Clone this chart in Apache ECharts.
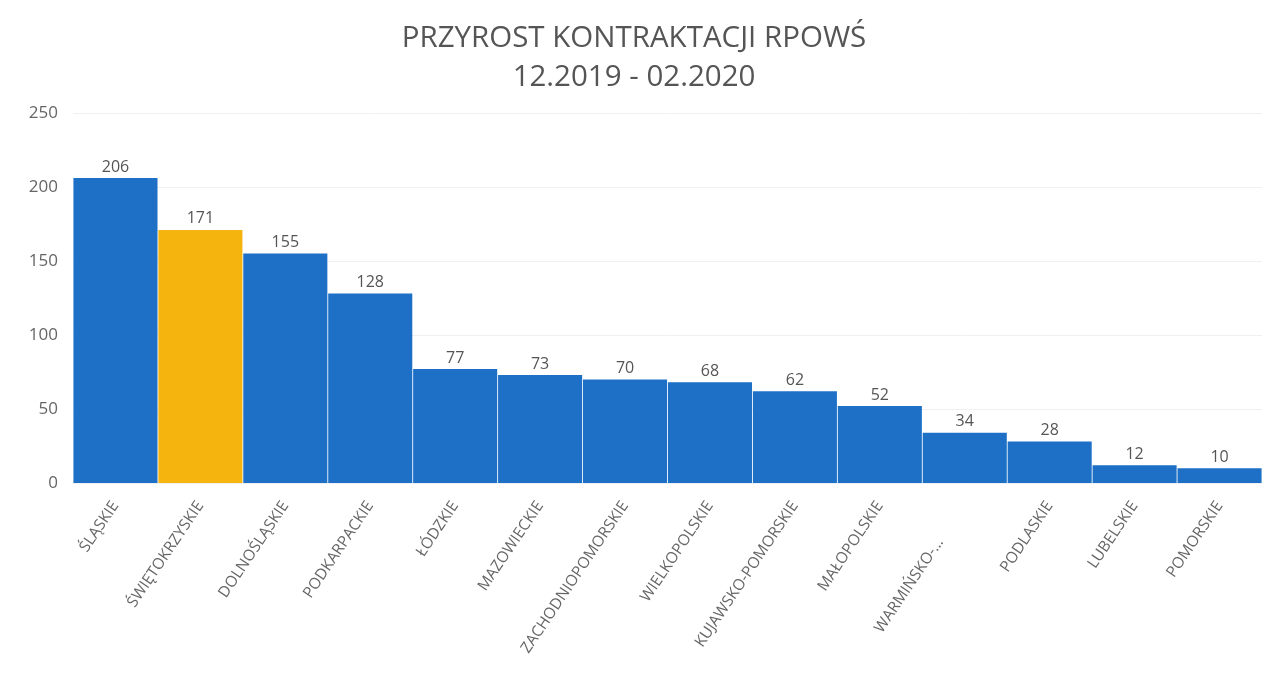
<!DOCTYPE html>
<html>
<head>
<meta charset="utf-8">
<script src="https://cdn.jsdelivr.net/npm/echarts@6/dist/echarts.min.js"></script>
<style>html,body{margin:0;padding:0;background:#fff}#c{width:1268px;height:686px}</style>
</head>
<body>
<div id="c"></div>
<script>
const categories = ['ŚLĄSKIE','ŚWIĘTOKRZYSKIE','DOLNOŚLĄSKIE','PODKARPACKIE','ŁÓDZKIE','MAZOWIECKIE','ZACHODNIOPOMORSKIE','WIELKOPOLSKIE','KUJAWSKO-POMORSKIE','MAŁOPOLSKIE','WARMIŃSKO-…','PODLASKIE','LUBELSKIE','POMORSKIE'];
const values = [206,171,155,128,77,73,70,68,62,52,34,28,12,10];
const highlight = 'ŚWIĘTOKRZYSKIE';
const yTicks = [0,50,100,150,200,250];

const chart = echarts.init(document.getElementById('c'));
chart.setOption({
  animation: false,
  title: {
    text: 'PRZYROST KONTRAKTACJI RPOWŚ\n12.2019 - 02.2020',
    left: 'center', top: 14,
    textStyle: {fontFamily: 'Open Sans', fontSize: 29.5, fontWeight: 'normal', color: '#555', lineHeight: 39}
  },
  grid: {left: 73, right: 6, top: 113, bottom: 203},
  xAxis: {
    type: 'category',
    data: categories.map(c => c === 'WARMIŃSKO-…' ? {value: c, textStyle: {padding: [0, 44, 0, 0]}} : c),
    axisTick: {show: false},
    axisLine: {show: false},
    axisLabel: {rotate: 56, interval: 0, fontFamily: 'Open Sans', fontSize: 15.5, color: '#666', margin: 20}
  },
  yAxis: {
    type: 'value', min: yTicks[0], max: yTicks[yTicks.length-1], interval: 50,
    axisLine: {show: false}, axisTick: {show: false},
    axisLabel: {fontFamily: 'Open Sans', fontSize: 17, color: '#666', margin: 15},
    splitLine: {lineStyle: {color: '#f0f0f0'}}
  },
  series: [{
    type: 'bar',
    barCategoryGap: '1%',
    data: values.map((v, i) => ({value: v, itemStyle: {color: categories[i] === highlight ? '#f6b40e' : '#1d70c6'}})),
    label: {show: true, position: 'top', fontFamily: 'Open Sans', fontSize: 16, color: '#555', distance: 3}
  }]
});
</script>
</body>
</html>
